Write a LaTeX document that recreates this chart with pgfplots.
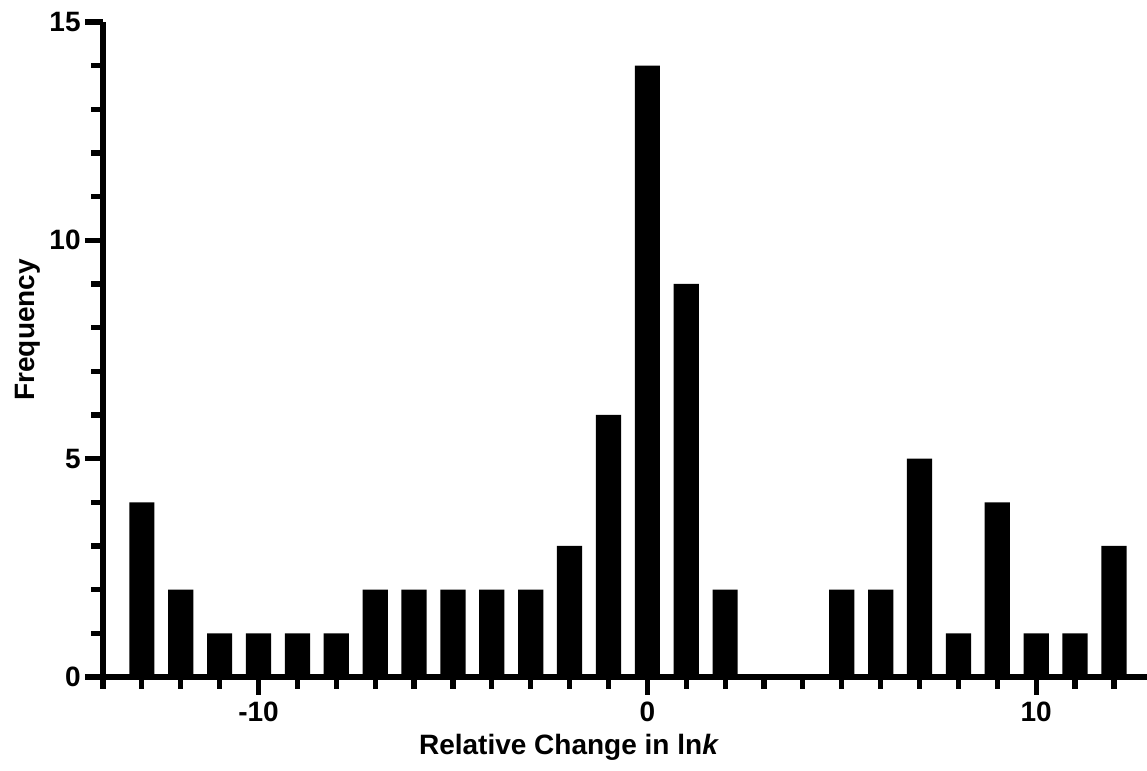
\documentclass[border=0pt]{standalone}
\usepackage{fontspec}
\setmainfont{Liberation Sans}
\usepackage{pgfplots}
\pgfplotsset{compat=1.18}

\begin{document}
\begin{tikzpicture}
\begin{axis}[
  scale only axis,
  width=522pt, height=327.5pt,
  xmin=-14, xmax=12.85, ymin=0, ymax=15,
  axis x line=bottom, axis y line=left,
  axis line style={line width=2.6pt, -},
  every outer x axis line/.append style={line width=2.6pt},
  every outer y axis line/.append style={line width=2.6pt},
  axis on top,
  ybar, bar width=12.6pt,
  xtick={-10,0,10}, minor xtick={-14,...,12},
  ytick={0,5,10,15}, minor ytick={0,...,15},
  tick align=outside,
  major tick length=9pt, minor tick length=5.8pt,
  tick style={line width=2.6pt, black},
  major tick style={line width=2.6pt, black},
  minor tick style={line width=2.6pt, black},
  /pgf/number format/assume math mode=true,
  tick label style={font=\fontsize{14}{16}\selectfont\bfseries},
  yticklabel style={inner sep=2pt},
  label style={font=\fontsize{14}{16}\selectfont\bfseries},
  xlabel={Relative Change in ln\textit{k}},
  ylabel={Frequency},
  xlabel style={at={(axis description cs:0.4464,-0.119)}, anchor=base},
  ylabel style={at={(axis description cs:-0.0718,0.53)}, anchor=center, rotate=0},
]
\addplot[fill=black, draw=none] coordinates {
  (-13,4) (-12,2) (-11,1) (-10,1) (-9,1) (-8,1) (-7,2) (-6,2) (-5,2)
  (-4,2) (-3,2) (-2,3) (-1,6) (0,14) (1,9) (2,2) (3,0) (4,0)
  (5,2) (6,2) (7,5) (8,1) (9,4) (10,1) (11,1) (12,3)
};
\end{axis}
\pgfresetboundingbox
\path ([shift={(-51.5pt,-47pt)}]current axis.south west) rectangle ([shift={(0pt,11pt)}]current axis.north east);
\end{tikzpicture}
\end{document}
